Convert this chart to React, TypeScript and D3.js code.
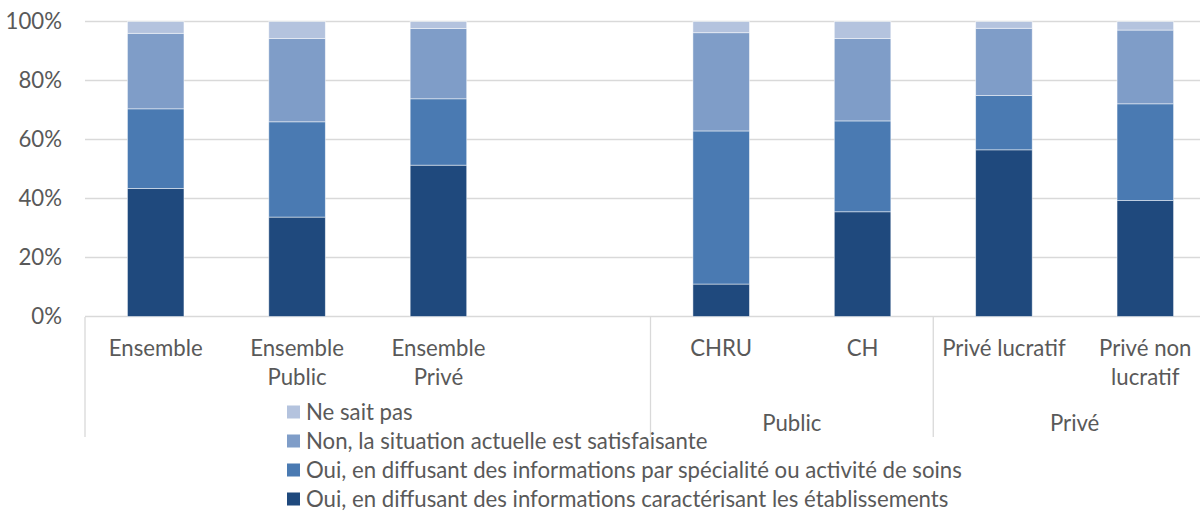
import React from "react";
import * as d3 from "d3";

const categories = ["Ensemble", "Ensemble\nPublic", "Ensemble\nPrivé", "", "CHRU", "CH", "Privé lucratif", "Privé non\nlucratif"];
const seriesNames = [
  "Oui, en diffusant des informations caractérisant les établissements",
  "Oui, en diffusant des informations par spécialité ou activité de soins",
  "Non, la situation actuelle est satisfaisante",
  "Ne sait pas",
];
const caracterisant = [43.4, 33.7, 51.3, 0, 11.0, 35.5, 56.5, 39.3];
const specialite = [27.0, 32.3, 22.5, 0, 51.9, 30.8, 18.4, 32.8];
const satisfaisante = [25.6, 28.2, 23.8, 0, 33.3, 27.9, 22.8, 25.0];
const neSaitPas = [4.0, 5.8, 2.4, 0, 3.8, 5.8, 2.3, 2.9];
const yTicks = [0, 20, 40, 60, 80, 100];
const groups = [
  { label: "", from: 0, to: 3 },
  { label: "Public", from: 4, to: 5 },
  { label: "Privé", from: 6, to: 7 },
];
const colors = ["#1f497d", "#4a7ab2", "#7f9dc8", "#b4c3de"];

export default function App() {
  const W = 1200, H = 511;
  const font = "Lato, 'Open Sans', sans-serif";
  const fs = 22.2;
  const text = "#595959";
  const grid = "#d9d9d9";
  const x = d3.scaleBand<string>().domain(categories.map((_, i) => String(i))).range([85, 1216]).paddingInner(0.6).paddingOuter(0.3);
  const y = d3.scaleLinear().domain([0, 100]).range([316.5, 21.5]);
  const step = x.step();
  const slotStart = (i: number) => (x(String(i)) as number) - (step - x.bandwidth()) / 2;
  const rows = categories.map((c, i) => ({ key: String(i), s0: caracterisant[i], s1: specialite[i], s2: satisfaisante[i], s3: neSaitPas[i] }));
  const stack = d3.stack<any>().keys(["s0", "s1", "s2", "s3"]);
  const stacked = stack(rows);
  const legendOrder = [3, 2, 1, 0];
  return (
    <svg width={W} height={H} style={{ position: "absolute", left: 0, top: 0, background: "#fff" }} fontFamily={font}>
      {yTicks.map((t) => (
        <g key={t}>
          <line x1={85} x2={W} y1={y(t)} y2={y(t)} stroke={grid} strokeWidth={1.3} />
          <text x={62} y={y(t)} dy="0.35em" textAnchor="end" fontSize={fs} fill={text}>{t}%</text>
        </g>
      ))}
      {stacked.map((layer, si) => (
        <g key={si} fill={colors[si]}>
          {layer.map((d, i) => categories[i] === "" ? null : (
            <rect key={i} x={x(String(i))} width={x.bandwidth()} y={y(d[1])} height={y(d[0]) - y(d[1])} stroke="#ffffff" strokeOpacity={0.6} strokeWidth={0.8} />
          ))}
        </g>
      ))}
      {groups.map((g, gi) => (
        <line key={gi} x1={slotStart(g.from)} x2={slotStart(g.from)} y1={317} y2={437} stroke={grid} strokeWidth={1.3} />
      ))}
      {categories.map((c, i) => (
        <text key={i} x={(x(String(i)) as number) + x.bandwidth() / 2} y={348} textAnchor="middle" fontSize={fs} fill={text}>
          {c.split("\n").map((line, li) => (
            <tspan key={li} x={(x(String(i)) as number) + x.bandwidth() / 2} dy={li === 0 ? "0.35em" : 29}>{line}</tspan>
          ))}
        </text>
      ))}
      {groups.map((g, gi) => (
        <text key={gi} x={(slotStart(g.from) + slotStart(g.to) + step) / 2} y={423} dy="0.35em" textAnchor="middle" fontSize={fs} fill={text}>{g.label}</text>
      ))}
      {legendOrder.map((si, li) => (
        <g key={si} transform={`translate(287,${412 + li * 29})`}>
          <rect x={0} y={-6.5} width={13} height={13} fill={colors[si]} />
          <text x={19} y={0} dy="0.35em" fontSize={fs} fill={text}>{seriesNames[si]}</text>
        </g>
      ))}
    </svg>
  );
}
